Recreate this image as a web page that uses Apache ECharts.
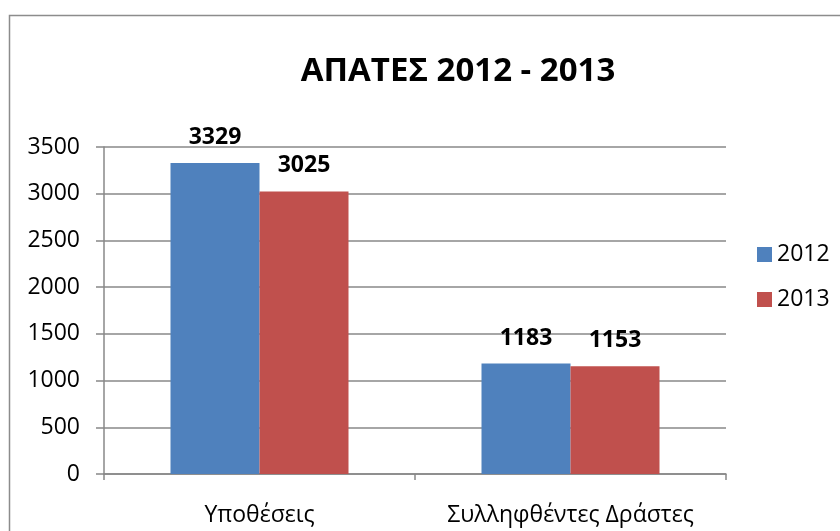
<!DOCTYPE html>
<html>
<head>
<meta charset="utf-8">
<script src="https://cdn.jsdelivr.net/npm/echarts@6/dist/echarts.min.js"></script>
<style>
  html, body { margin: 0; padding: 0; background: #fff; }
  #chart { width: 840px; height: 531px; }
</style>
</head>
<body>
<div id="chart"></div>
<script>
const categories = ['Υποθέσεις', 'Συλληφθέντες Δράστες'];
const years = ['2012', '2013'];
const values2012 = [3329, 1183];
const values2013 = [3025, 1153];

const font = 'Open Sans';
const chart = echarts.init(document.getElementById('chart'));

const barLabel = {
  show: true,
  position: 'top',
  distance: 14,
  fontFamily: font,
  fontSize: 23,
  fontWeight: 'bold',
  color: '#000'
};

chart.setOption({
  animation: false,
  color: ['#4F81BD', '#C0504D'],
  graphic: [{
    type: 'rect',
    shape: { x: 9.5, y: 15.5, width: 900, height: 600 },
    style: { fill: 'none', stroke: '#8c8c8c', lineWidth: 1.5 },
    silent: true
  }],
  title: {
    text: 'ΑΠΑΤΕΣ 2012 - 2013',
    left: 453,
    textAlign: 'center',
    top: 50,
    textStyle: { fontFamily: font, fontSize: 33, fontWeight: 'bold', color: '#000' }
  },
  legend: {
    orient: 'vertical',
    left: 752,
    top: 238,
    itemWidth: 15,
    itemHeight: 15,
    itemGap: 22,
    icon: 'rect',
    data: years,
    textStyle: { fontFamily: font, fontSize: 23, color: '#000' }
  },
  grid: { left: 104, right: 114, top: 147, bottom: 57 },
  xAxis: {
    type: 'category',
    data: categories,
    axisLine: { lineStyle: { color: '#888', width: 1.5 } },
    axisTick: { show: true, length: 6, lineStyle: { color: '#888', width: 1.5 } },
    axisLabel: { fontFamily: font, fontSize: 23, color: '#000', margin: 30, interval: 0 }
  },
  yAxis: {
    type: 'value',
    min: 0,
    max: 3500,
    interval: 500,
    axisLine: { show: true, lineStyle: { color: '#888', width: 1.5 } },
    axisTick: { show: true, length: 8, lineStyle: { color: '#888', width: 1.5 } },
    splitLine: { lineStyle: { color: '#888', width: 1.5 } },
    axisLabel: { fontFamily: font, fontSize: 23, color: '#000', margin: 24, formatter: v => String(v) }
  },
  series: [
    { name: years[0], type: 'bar', data: values2012, barWidth: 89, barGap: '0%', label: barLabel },
    { name: years[1], type: 'bar', data: values2013, barWidth: 89, barGap: '0%', label: barLabel }
  ]
});
</script>
</body>
</html>
